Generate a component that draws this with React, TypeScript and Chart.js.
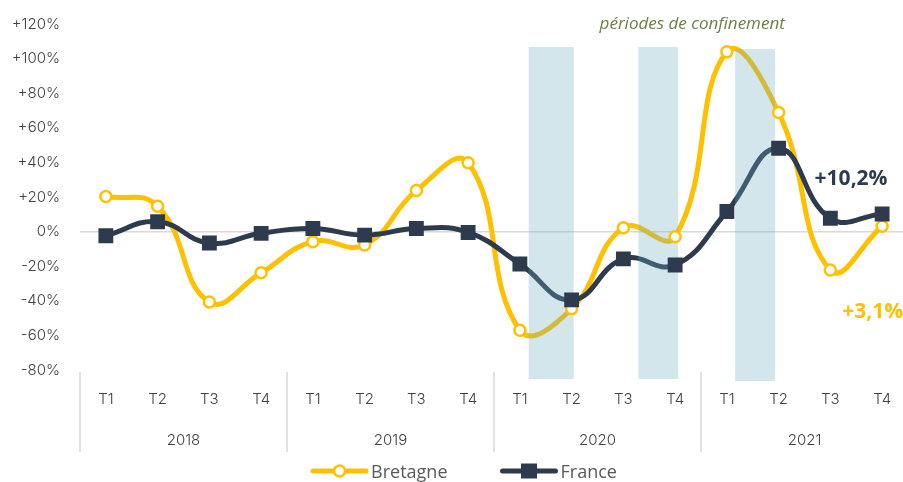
import { useEffect, useRef } from 'react';
import { Chart, registerables } from 'chart.js';

Chart.register(...registerables);

// ---- data ----
const quarters = ['T1', 'T2', 'T3', 'T4', 'T1', 'T2', 'T3', 'T4', 'T1', 'T2', 'T3', 'T4', 'T1', 'T2', 'T3', 'T4'];
const years = ['2018', '2019', '2020', '2021'];
const bretagne = [20.3, 14.7, -40.7, -23.8, -5.8, -7.7, 23.7, 39.8, -57.0, -44.6, 2.2, -3.0, 103.9, 68.8, -22.2, 3.1];
const france = [-2.4, 5.7, -6.6, -1.0, 1.8, -2.0, 1.8, -0.5, -18.7, -39.5, -15.8, -19.3, 11.6, 48.2, 7.7, 10.2];
const yMin = -80;
const yMax = 120;
const yStep = 20;
// lockdown periods (category-index units) and their vertical extent (%)
const lockStart = [8.17, 10.29, 12.16];
const lockEnd = [9.04, 11.06, 12.93];
const lockTop = [106.7, 106.7, 105.5];
const lockBottom = [-85.2, -85.2, -86.4];
const lockLabel = 'périodes de confinement';
const lastLabels = ['+3,1%', '+10,2%'];
const seriesNames = ['Bretagne', 'France'];

const YELLOW = '#FFC000';
const NAVY = '#2E3B4E';
const AXIS_FONT = 'Inter';

const fmtPct = (v: number) => (v > 0 ? '+' + v + '%' : v + '%');

export default function App() {
  const ref = useRef<HTMLCanvasElement | null>(null);

  useEffect(() => {
    document.body.style.margin = '0';
    document.body.style.overflow = 'hidden';
    document.documentElement.style.overflow = 'hidden';
    const canvas = ref.current;
    if (!canvas) return;

    const overlay = {
      id: 'overlay',
      afterDatasetDraw(chart: any, args: any) {
        if (args.index !== 1) return;
        const { ctx, scales } = chart;
        const xs = scales.x;
        const ys = scales.y;
        ctx.save();
        ctx.fillStyle = 'rgba(105,172,192,0.3)';
        for (let i = 0; i < lockStart.length; i++) {
          const x0 = xs.getPixelForValue(lockStart[i]);
          const x1 = xs.getPixelForValue(lockEnd[i]);
          const y0 = ys.getPixelForValue(lockTop[i]);
          const y1 = ys.getPixelForValue(lockBottom[i]);
          ctx.fillRect(x0, y0, x1 - x0, y1 - y0);
        }
        ctx.restore();
      },
      afterDraw(chart: any) {
        const { ctx, scales, chartArea } = chart;
        const xs = scales.x;
        const ys = scales.y;
        ctx.save();
        // group dividers
        ctx.strokeStyle = '#d9d9d9';
        ctx.lineWidth = 1.5;
        for (let g = 0; g <= years.length; g++) {
          const x = Math.round(xs.getPixelForValue(g * 4 - 0.5));
          ctx.beginPath();
          ctx.moveTo(x, chartArea.bottom + 2);
          ctx.lineTo(x, chartArea.bottom + 82);
          ctx.stroke();
        }
        // years
        ctx.fillStyle = '#404040';
        ctx.font = `300 15px ${AXIS_FONT}`;
        ctx.textAlign = 'center';
        ctx.textBaseline = 'middle';
        years.forEach((y, g) => {
          ctx.fillText(y, xs.getPixelForValue(g * 4 + 1.5), chartArea.bottom + 70);
        });
        // lockdown label
        ctx.fillStyle = '#6B7F45';
        ctx.font = `italic 17px "Open Sans"`;
        ctx.fillText(lockLabel, xs.getPixelForValue(11.33), ys.getPixelForValue(yMax));
        // end labels
        ctx.font = `bold 21px "Open Sans"`;
        ctx.fillStyle = NAVY;
        ctx.fillText(lastLabels[1], xs.getPixelForValue(14.4), ys.getPixelForValue(30.4));
        ctx.fillStyle = YELLOW;
        ctx.fillText(lastLabels[0], xs.getPixelForValue(14.82), ys.getPixelForValue(-46.5));

        // legend
        ctx.font = `18px "Open Sans"`;
        const sample = 57;
        const gapText = 3;
        const gapItem = 53;
        const widths = seriesNames.map((n) => ctx.measureText(n).width);
        const total = widths.reduce((a, w) => a + sample + gapText + w, 0) + gapItem;
        let x = chart.width / 2 - total / 2;
        const baseY = chart.height - 4;
        const midY = baseY - 7;
        seriesNames.forEach((n, i) => {
          const color = i === 0 ? YELLOW : NAVY;
          ctx.strokeStyle = color;
          ctx.lineWidth = 5;
          ctx.lineCap = 'round';
          ctx.beginPath();
          ctx.moveTo(x + 2, midY);
          ctx.lineTo(x + sample - 2, midY);
          ctx.stroke();
          const cx = x + sample / 2;
          if (i === 0) {
            ctx.beginPath();
            ctx.arc(cx, midY, 5.5, 0, Math.PI * 2);
            ctx.fillStyle = '#ffffff';
            ctx.fill();
            ctx.lineWidth = 2.5;
            ctx.strokeStyle = YELLOW;
            ctx.stroke();
          } else {
            ctx.fillStyle = NAVY;
            ctx.fillRect(cx - 8, midY - 7.5, 16, 15);
          }
          ctx.fillStyle = '#595959';
          ctx.textAlign = 'left';
          ctx.textBaseline = 'alphabetic';
          ctx.fillText(n, x + sample + gapText, baseY);
          x += sample + gapText + widths[i] + gapItem;
        });
        ctx.restore();
      },
    };

    const chart = new Chart(canvas, {
      type: 'line',
      data: {
        labels: quarters,
        datasets: [
          { label: seriesNames[0], data: bretagne, borderColor: YELLOW, borderWidth: 5, pointRadius: 0, tension: 0.45, fill: false, order: 4 },
          { label: seriesNames[1], data: france, borderColor: NAVY, borderWidth: 5, pointRadius: 0, tension: 0.45, fill: false, order: 3 },
          { label: seriesNames[0] + ' points', data: bretagne, showLine: false, pointStyle: 'circle', pointRadius: 5.5, pointBorderWidth: 2.5, pointBackgroundColor: '#ffffff', pointBorderColor: YELLOW, order: 2 },
          { label: seriesNames[1] + ' points', data: france, showLine: false, pointStyle: 'rect', pointRadius: 10.5, pointBorderWidth: 0, pointBackgroundColor: NAVY, pointBorderColor: NAVY, order: 1 },
        ],
      },
      options: {
        responsive: false,
        animation: false,
        devicePixelRatio: 1,
        layout: { padding: { top: 24, right: 20, left: 0, bottom: 0 } },
        plugins: { legend: { display: false }, tooltip: { enabled: false } },
        scales: {
          x: {
            type: 'category',
            offset: true,
            grid: { display: false, drawTicks: false },
            border: { display: false },
            ticks: { color: '#404040', font: { family: AXIS_FONT, size: 15, weight: '300' }, padding: 20, maxRotation: 0, autoSkip: false },
            afterFit: (s: any) => { s.height = 112; },
          },
          y: {
            min: yMin,
            max: yMax,
            grid: { drawTicks: false, lineWidth: 1.5, color: (c: any) => (c.tick && c.tick.value === 0 ? '#d9d9d9' : 'rgba(0,0,0,0)') },
            border: { display: false },
            ticks: { stepSize: yStep, color: '#404040', font: { family: AXIS_FONT, size: 15, weight: '300' }, padding: 20, callback: (v: any) => fmtPct(Number(v)) },
            afterFit: (s: any) => {
              s.width = 80;
              s.paddingTop = 0;
              s.paddingBottom = 0;
            },
          },
        },
      },
      plugins: [overlay],
    });
    return () => chart.destroy();
  }, []);

  return (
    <div style={{ position: 'absolute', left: 0, top: 0, width: 928, height: 482 }}>
      <canvas ref={ref} width={928} height={482} />
    </div>
  );
}
